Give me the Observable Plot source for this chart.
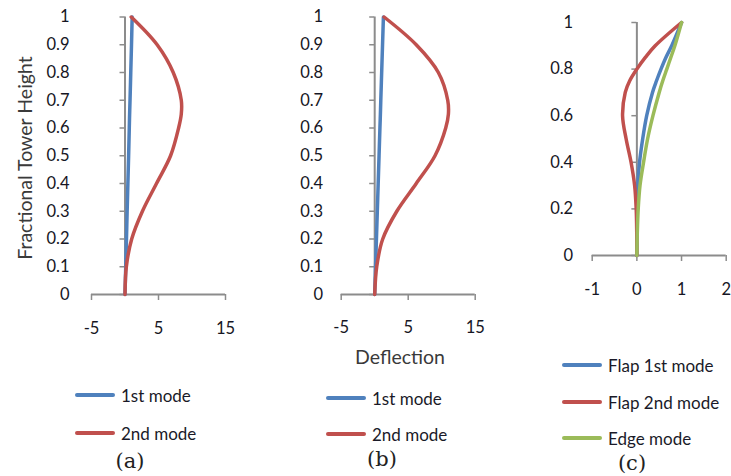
<!DOCTYPE html>
<html>
<head>
<meta charset="utf-8">
<script src="https://cdn.jsdelivr.net/npm/d3@7"></script>
<script src="https://cdn.jsdelivr.net/npm/@observablehq/plot@0.6"></script>
<style>
  html, body { margin: 0; padding: 0; background: #fff; }
  #root { position: relative; width: 731px; height: 476px; overflow: hidden; background: #fff; font-family: Lato, "Open Sans", sans-serif; }
  .legend-item { position: absolute; display: flex; align-items: center; font-size: 17px; color: #1a1a28; white-space: nowrap; }
  .swatch { display: inline-block; width: 40px; height: 3.5px; border-radius: 2px; margin-right: 6px; }
  .cap { position: absolute; font-family: "DejaVu Serif", serif; font-size: 21px; color: #222; transform: translate(-50%, -50%); white-space: nowrap; }
  .title { position: absolute; font-size: 19.5px; color: #3a3a3a; white-space: nowrap; transform: translate(-50%, -50%); }
</style>
</head>
<body>
<div id="root"></div>
<script>
// ---- Data ----
const heights = [0, 0.1, 0.2, 0.3, 0.4, 0.5, 0.6, 0.65, 0.7, 0.8, 0.9, 1];

// Panel (a)
const a_mode1 = [0, 0.11, 0.22, 0.32, 0.43, 0.54, 0.64, 0.69, 0.75, 0.86, 0.97, 1.07];
const a_mode2 = [0, 0.2, 1.0, 2.6, 4.7, 6.8, 8.0, 8.4, 8.4, 7.2, 4.8, 0.93];

// Panel (b)
const b_mode1 = [0, 0.13, 0.26, 0.39, 0.52, 0.65, 0.78, 0.85, 0.91, 1.04, 1.17, 1.3];
const b_mode2 = [0, 0.3, 1.2, 3.3, 6.2, 9.0, 10.6, 11.0, 10.9, 9.5, 6.2, 1.4];

// Panel (c)
const c_heights = [0, 0.1, 0.2, 0.3, 0.4, 0.5, 0.6, 0.7, 0.75, 0.8, 0.85, 0.9, 1];
const c_flap1 = [0, 0, 0.005, 0.02, 0.06, 0.13, 0.22, 0.35, 0.44, 0.54, 0.65, 0.78, 1];
const c_flap2 = [0, -0.003, -0.015, -0.05, -0.13, -0.24, -0.32, -0.26, -0.16, 0.0, 0.19, 0.41, 1];
const c_edge  = [0, 0.01, 0.03, 0.07, 0.15, 0.24, 0.36, 0.5, 0.58, 0.67, 0.76, 0.85, 1];

// Axis ticks & labels
const abXTicks = [-5, 5, 15];
const abYTicks = [0, 0.1, 0.2, 0.3, 0.4, 0.5, 0.6, 0.7, 0.8, 0.9, 1];
const cXTicks = [-1, 0, 1, 2];
const cYTicks = [0, 0.2, 0.4, 0.6, 0.8, 1];

const yTitle = "Fractional Tower Height";
const xTitle = "Deflection";
const abLegend = ["1st mode", "2nd mode"];
const cLegend = ["Flap 1st mode", "Flap 2nd mode", "Edge mode"];
const captions = ["(a)", "(b)", "(c)"];

const colors = { blue: "#4F81BD", red: "#C0504D", green: "#9BBB59" };
const axisGray = "#8c8c8c";
const tickFont = 16.5;

// ---- Helpers ----
const root = document.getElementById("root");

function series(hs, vals, name) {
  return hs.map((h, i) => ({ h, d: vals[i], name }));
}

function panel({ left, top, width, height, xL, xR, yT, yB, xDomain, xTicks, yTicks, yFmt, yPad, xPad, lines }) {
  const ml = xL - left, mr = left + width - xR, mt = yT - top, mb = top + height - yB;
  const marks = [
    Plot.ruleY([0], { stroke: axisGray, strokeWidth: 2 }),
    Plot.ruleX([0], { stroke: axisGray, strokeWidth: 2 }),
    Plot.ruleY(yTicks, { y: d => d, x1: () => 0, x2: () => 0, insetLeft: -5, stroke: axisGray, strokeWidth: 1.5 }),
    Plot.ruleX(xTicks, { x: d => d, y1: () => 0, y2: () => 0, insetBottom: -6, stroke: axisGray, strokeWidth: 1.5 }),
    Plot.axisY({ ticks: yTicks, tickSize: 0, tickPadding: yPad, tickFormat: yFmt, fontSize: tickFont, fill: "#161624", label: null }),
    Plot.axisX({ ticks: xTicks, tickSize: 0, tickPadding: xPad, tickFormat: d => String(d), fontSize: tickFont, fill: "#161624", label: null })
  ];
  for (const L of lines) {
    marks.push(Plot.line(L.data, { x: "d", y: "h", stroke: L.color, strokeWidth: 3.5, curve: "catmull-rom", strokeLinecap: "round" }));
  }
  const svg = Plot.plot({
    width, height,
    marginLeft: ml, marginRight: mr, marginTop: mt, marginBottom: mb,
    x: { domain: xDomain, axis: null },
    y: { domain: [0, 1], axis: null },
    style: { fontFamily: "Lato, 'Open Sans', sans-serif", background: "transparent", overflow: "visible" },
    marks
  });
  svg.style.position = "absolute";
  svg.style.left = left + "px";
  svg.style.top = top + "px";
  root.appendChild(svg);
}

function legendItem(x, y, color, text) {
  const el = document.createElement("div");
  el.className = "legend-item";
  el.style.left = x + "px";
  el.style.top = (y - 11) + "px";
  el.style.height = "22px";
  el.innerHTML = `<span class="swatch" style="background:${color}"></span><span>${text}</span>`;
  root.appendChild(el);
}
function caption(x, y, text) {
  const el = document.createElement("div");
  el.className = "cap";
  el.style.left = x + "px"; el.style.top = y + "px";
  el.textContent = text;
  root.appendChild(el);
}
function title(x, y, text, rotate) {
  const el = document.createElement("div");
  el.className = "title";
  el.style.left = x + "px"; el.style.top = y + "px";
  if (rotate) el.style.transform = "translate(-50%, -50%) rotate(-90deg)";
  el.textContent = text;
  root.appendChild(el);
}

const fmt1 = d => (d === 0 || d === 1) ? String(d) : d.toFixed(1);

// Panel (a)
panel({
  left: 0, top: 0, width: 240, height: 350,
  xL: 91, xR: 225, yT: 16.5, yB: 294,
  xDomain: [-5, 15], xTicks: abXTicks, yTicks: abYTicks, yFmt: fmt1, yPad: 22, xPad: 28,
  lines: [
    { data: series(heights, a_mode1, abLegend[0]), color: colors.blue },
    { data: series(heights, a_mode2, abLegend[1]), color: colors.red }
  ]
});

// Panel (b)
panel({
  left: 240, top: 0, width: 250, height: 350,
  xL: 340.7, xR: 474.7, yT: 16.5, yB: 294,
  xDomain: [-5, 15], xTicks: abXTicks, yTicks: abYTicks, yFmt: fmt1, yPad: 18, xPad: 27,
  lines: [
    { data: series(heights, b_mode1, abLegend[0]), color: colors.blue },
    { data: series(heights, b_mode2, abLegend[1]), color: colors.red }
  ]
});

// Panel (c)
panel({
  left: 540, top: 0, width: 191, height: 320,
  xL: 591.7, xR: 725.7, yT: 22, yB: 255,
  xDomain: [-1, 2], xTicks: cXTicks, yTicks: cYTicks, yFmt: fmt1, yPad: 19, xPad: 28,
  lines: [
    { data: series(c_heights, c_flap1, cLegend[0]), color: colors.blue },
    { data: series(c_heights, c_flap2, cLegend[1]), color: colors.red },
    { data: series(c_heights, c_edge, cLegend[2]), color: colors.green }
  ]
});

// Titles
title(24, 158, yTitle, true);
title(400, 356, xTitle, false);

// Legends
legendItem(75, 395, colors.blue, abLegend[0]);
legendItem(75, 433, colors.red, abLegend[1]);
legendItem(326, 398, colors.blue, abLegend[0]);
legendItem(326, 434, colors.red, abLegend[1]);
legendItem(562, 365, colors.blue, cLegend[0]);
legendItem(562, 402, colors.red, cLegend[1]);
legendItem(562, 438, colors.green, cLegend[2]);

// Captions
caption(130, 461, captions[0]);
caption(382, 459, captions[1]);
caption(632, 463, captions[2]);
</script>
</body>
</html>
